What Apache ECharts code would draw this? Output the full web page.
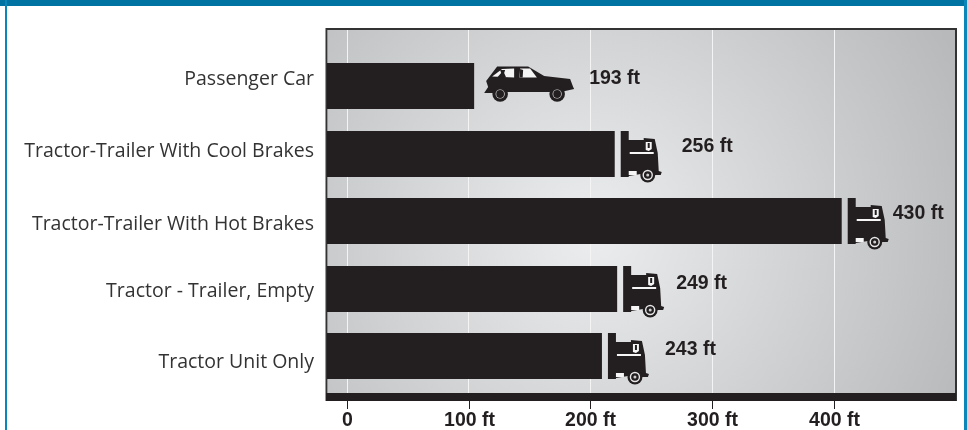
<!DOCTYPE html>
<html><head><meta charset="utf-8">
<style>html,body{margin:0;padding:0;background:#fff}#c{width:967px;height:430px}</style>
<script src="https://cdn.jsdelivr.net/npm/echarts@6/dist/echarts.min.js"></script>
</head><body><div id="c"></div>
<script>
const categories = ['Passenger Car','Tractor-Trailer With Cool Brakes','Tractor-Trailer With Hot Brakes','Tractor - Trailer, Empty','Tractor Unit Only'];
const barLengths = [104.5,220,406.5,222,209.5];
const stoppingFeet = [193,256,430,249,243];
const tickValues = [0,100,200,300,400];
const categoryIndex = [0,1,2,3,4];
const axisMin = -16.4, axisMax = 500.4;

// pixel offsets of the labels (style, not data)
const labelGap = [115,67,51,59,63];
const labelRise = [7,7,7,5,6];
const categoryShift = [-6.5,-2,3,3,6];

const ink = '#231f20';
function poly(points, fill){ return {type:'polygon',shape:{points},style:{fill}}; }
function disc(cx,cy,r,fill){ return {type:'circle',shape:{cx,cy,r},style:{fill}}; }

function carGlyph(x,y){
  return {type:'group',x,y,children:[
    poly([[0,28],[4,22],[2,16],[13,1.5],[44,1.5],[60,11],[86,14],[89,22],[90,24],[81,26],[65,27],[24,27],[10,28]],ink),
    poly([[18,4],[8,11.5],[30,12.5],[30,3.5]],'#f4f4f4'),
    poly([[36,3.5],[35.3,12.5],[52.7,12.5],[46,3.5]],'#f4f4f4'),
    poly([[16,5],[21,5],[20,8],[22,12.5],[13,12.5],[17,8]],ink),
    poly([[36,4],[39,5],[38.5,12.5],[35.5,12.5]],ink),
    disc(16,29,7.8,ink), disc(16,29,4.6,'#d8d8d8'), disc(16,29,3.9,ink),
    disc(73,29,7.8,ink), disc(73,29,4.6,'#d8d8d8'), disc(73,29,3.9,ink)
  ]};
}
function truckGlyph(x,y){
  return {type:'group',x,y,children:[
    poly([[0,0],[8,0],[8,9],[23,9],[23,7],[34,8],[37,22],[38,40],[41,41],[40,44],[32,44],[20,43],[8,45],[8,46],[0,46]],ink),
    poly([[9,21],[33,21],[33,23],[9,23]],'#f6f6f6'),
    poly([[25,11],[31,11],[31,18],[28,20],[25,19]],'#f6f6f6'),
    poly([[27,12],[29,12],[29,17],[27,17]],ink),
    poly([[8,40],[16,40],[16,44],[8,44]],'#f6f6f6'),
    disc(27,44,7.5,ink), disc(27,44,5.2,'#e8e8e8'), disc(27,44,3.8,ink), disc(27,44,1.5,'#cfcfcf')
  ]};
}

const chart = echarts.init(document.getElementById('c'), null, {renderer:'canvas'});
chart.setOption({
  animation:false,
  backgroundColor:'#fff',
  graphic:[
    {type:'rect',z:0,shape:{x:0,y:0,width:967,height:6},style:{fill:'#0073a3'}},
    {type:'rect',z:0,shape:{x:5,y:0,width:2,height:430},style:{fill:'#0a86b8'}},
    {type:'rect',z:0,shape:{x:964,y:0,width:3,height:430},style:{fill:'#0a86b8'}}
  ],
  grid:{show:true,left:327,right:11,top:30,bottom:37,containLabel:false,borderWidth:0,
    backgroundColor:{type:'radial',x:0.42,y:0.56,r:1.12,colorStops:[
      {offset:0,color:'#ecedee'},{offset:1,color:'#b8b9bb'}]}},
  xAxis:{type:'value',min:axisMin,max:axisMax,position:'bottom',
    customValues:tickValues,
    axisLine:{show:false},axisTick:{show:false},
    splitLine:{show:true,lineStyle:{color:'#f4f4f4',width:1}},
    axisLabel:{show:false}},
  yAxis:{type:'value',inverse:true,min:-0.83,max:4.548,customValues:categoryIndex,
    axisLine:{show:false},axisTick:{show:false},splitLine:{show:false},
    axisLabel:{show:false}},
  series:[
    {type:'custom',coordinateSystem:'cartesian2d',silent:true,z:3,data:[[0,0]],clip:false,
      renderItem(params,api){
        const cs=params.coordSys;
        const ch=[
          {type:'rect',shape:{x:cs.x-0.5,y:cs.y-1,width:cs.width+0.5,height:cs.height+8},style:{fill:'none',stroke:'#333',lineWidth:2}},
          {type:'rect',shape:{x:cs.x-1,y:cs.y+cs.height,width:cs.width+1,height:8},style:{fill:ink}}
        ];
        tickValues.forEach(v=>{
          const x=Math.round(api.coord([v,0])[0])+0.5;
          ch.push({type:'line',shape:{x1:x,y1:cs.y+cs.height+8,x2:x,y2:cs.y+cs.height+16},style:{stroke:ink,lineWidth:1}});
          ch.push({type:'text',style:{text:v===0?'0':v+' ft',x:x,y:cs.y+cs.height+28,align:'center',verticalAlign:'middle',font:'bold 19.5px "Liberation Sans"',fill:ink}});
        });
        return {type:'group',children:ch};
      }},
    {type:'custom',coordinateSystem:'cartesian2d',silent:true,z:4,clip:false,
      data:barLengths.map((v,i)=>[v,i,stoppingFeet[i]]),
      encode:{x:0,y:1},
      renderItem(params,api){
        const i=params.dataIndex;
        const end=api.coord([api.value(0),i]);
        const left=params.coordSys.x;
        const h=46;
        const top=Math.round(end[1]-h/2);
        return {type:'group',children:[
          {type:'rect',shape:{x:left,y:top,width:end[0]-left,height:h},style:{fill:ink}},
          i===0 ? carGlyph(end[0]+10,top+2) : truckGlyph(end[0]+6,top),
          {type:'text',style:{text:categories[i],x:left-13,y:end[1]+categoryShift[i],align:'right',verticalAlign:'middle',font:'19.5px "Open Sans"',fill:'#333'}},
          {type:'text',style:{text:api.value(2)+' ft',x:end[0]+labelGap[i],y:top+23-labelRise[i],align:'left',verticalAlign:'middle',font:'bold 19.5px "Liberation Sans"',fill:ink}}
        ]};
      }}
  ]
});
</script></body></html>
